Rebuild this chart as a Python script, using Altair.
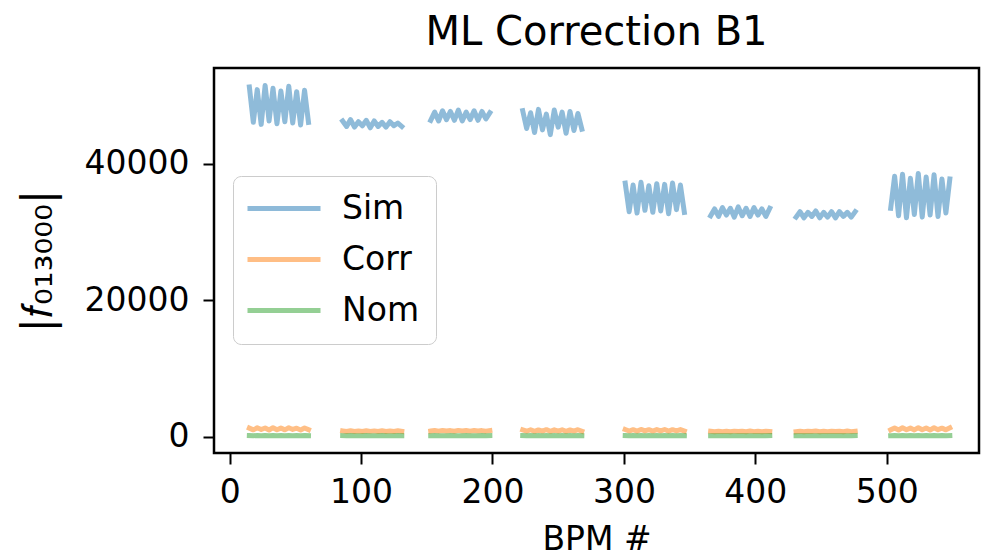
import altair as alt
import pandas as pd

# ---- data ----
series_names = ["Sim", "Corr", "Nom"]
series_colors = ["#1f77b4", "#ff7f0e", "#2ca02c"]

seg_start = [15, 86, 153, 223, 301, 366, 431, 503]
bpm_step = 3

sim = [
    [51300, 46100, 50900, 45800, 51500, 46300, 51100, 45900, 50700, 46200, 51400, 46000, 50600, 45700, 50800, 46100],
    [46300, 45500, 46500, 45400, 46200, 45600, 46400, 45300, 46300, 45500, 46100, 45400, 46200, 45600, 46000, 45500],
    [46400, 47600, 46300, 47800, 46500, 47700, 46400, 47900, 46300, 47600, 46500, 47800, 46400, 47700, 46600, 47500],
    [47800, 45200, 47500, 44600, 48000, 45000, 47300, 44300, 47900, 45400, 47600, 44500, 47700, 44900, 47400, 45100],
    [37200, 33000, 36900, 32800, 37300, 33200, 36800, 32900, 37100, 33100, 37000, 32700, 37200, 33300, 36900, 32900],
    [32400, 33400, 32300, 33600, 32500, 33500, 32200, 33700, 32400, 33500, 32300, 33600, 32500, 33400, 32300, 33500],
    [32200, 33000, 32100, 32900, 32300, 33100, 32100, 32900, 32200, 33000, 32100, 33000, 32300, 32900, 32200, 33000],
    [33500, 38200, 32400, 38500, 32100, 37900, 32600, 38600, 32200, 38100, 32500, 38400, 32300, 37800, 32800, 37800],
]
corr = [
    [1250, 1000, 1300, 1050, 1280, 980, 1320, 1020, 1260, 1000, 1300, 1060, 1240, 990, 1280, 1030],
    [850, 760, 870, 770, 840, 750, 860, 780, 850, 760, 870, 770, 840, 760, 860, 780],
    [820, 900, 810, 910, 830, 890, 800, 920, 820, 900, 810, 910, 830, 890, 810, 900],
    [1000, 800, 1020, 780, 990, 820, 1030, 790, 1000, 810, 1010, 780, 990, 820, 1020, 800],
    [1050, 830, 1020, 810, 1060, 850, 1030, 820, 1040, 840, 1050, 810, 1020, 850, 1040, 830],
    [800, 730, 810, 740, 790, 720, 810, 750, 800, 730, 820, 740, 790, 730, 810, 750],
    [740, 810, 730, 800, 750, 820, 730, 800, 740, 810, 750, 800, 730, 820, 740, 800],
    [1000, 1280, 980, 1300, 1020, 1260, 990, 1320, 1010, 1270, 980, 1300, 1030, 1250, 1000, 1290],
]
nom = [
    [160, 140, 170, 150, 165, 135, 170, 145, 160, 140, 175, 150, 160, 140, 165, 150],
    [150, 140, 155, 145, 150, 135, 155, 145, 150, 140, 155, 145, 150, 140, 155, 145],
    [145, 155, 140, 150, 145, 155, 140, 150, 145, 155, 140, 150, 145, 155, 140, 150],
    [160, 140, 165, 145, 160, 140, 165, 145, 160, 140, 165, 145, 160, 140, 165, 145],
    [165, 145, 160, 140, 165, 145, 160, 140, 165, 145, 160, 140, 165, 145, 160, 140],
    [140, 150, 135, 150, 140, 150, 135, 150, 140, 150, 135, 150, 140, 150, 135, 150],
    [140, 150, 135, 150, 140, 150, 135, 150, 140, 150, 135, 150, 140, 150, 135, 150],
    [150, 170, 145, 170, 150, 170, 145, 170, 150, 170, 145, 170, 150, 170, 145, 170],
]

x_ticks = [0, 100, 200, 300, 400, 500]
y_ticks = [0, 20000, 40000]

rows = []
for name, data in zip(series_names, [sim, corr, nom]):
    for s, vals in enumerate(data):
        for k, v in enumerate(vals):
            rows.append({"series": name, "seg": f"{name}-{s}", "bpm": seg_start[s] + bpm_step * k, "f": v})
df = pd.DataFrame(rows)

FONT = "DejaVu Sans"

chart = (
    alt.Chart(df)
    .mark_line(strokeWidth=5, opacity=0.5, strokeCap="square", strokeJoin="round")
    .encode(
        x=alt.X(
            "bpm:Q",
            scale=alt.Scale(domain=[-11.9, 570.2], nice=False, zero=False),
            axis=alt.Axis(values=x_ticks, title="BPM #", grid=False, domain=False,
                          tickColor="black", tickWidth=2, tickSize=11,
                          labelFontSize=33, labelFont=FONT, labelColor="black", labelPadding=12,
                          titleFontSize=33, titleFont=FONT, titleFontWeight="normal",
                          titleColor="black", titlePadding=14),
        ),
        y=alt.Y(
            "f:Q",
            scale=alt.Scale(domain=[-2394, 54070], nice=False, zero=False),
            axis=alt.Axis(values=y_ticks, format="d", title="|𝑓₀₁₃₀₀₀|", grid=False, domain=False,
                          tickColor="black", tickWidth=2, tickSize=11,
                          labelFontSize=33, labelFont=FONT, labelColor="black", labelPadding=14,
                          titleFontSize=42, titleFont=FONT, titleFontWeight="normal",
                          titleColor="black", titlePadding=24),
        ),
        color=alt.Color(
            "series:N",
            scale=alt.Scale(domain=series_names, range=series_colors),
            legend=alt.Legend(
                title=None, orient="none", legendX=19, legendY=108,
                fillColor="white", strokeColor="#cccccc", cornerRadius=8, padding=16,
                symbolType="M-3.6,0L11,0", symbolSize=100, symbolStrokeWidth=5,
                symbolOpacity=0.5, labelOffset=60, rowPadding=17,
                labelFontSize=33, labelFont=FONT, labelColor="black",
            ),
        ),
        detail="seg:N",
    )
    .properties(
        width=765,
        height=385,
        title=alt.Title("ML Correction B1", fontSize=40, font=FONT, fontWeight="normal",
                        color="black", anchor="middle", frame="group", offset=15),
        autosize=alt.AutoSizeParams(type="none"),
        padding={"left": 214, "top": 68, "right": 3, "bottom": 106},
    )
    .configure(background="white")
    .configure_view(stroke="black", strokeWidth=2.5)
)

chart.save("out.html", embed_options={"renderer": "svg", "actions": False})
